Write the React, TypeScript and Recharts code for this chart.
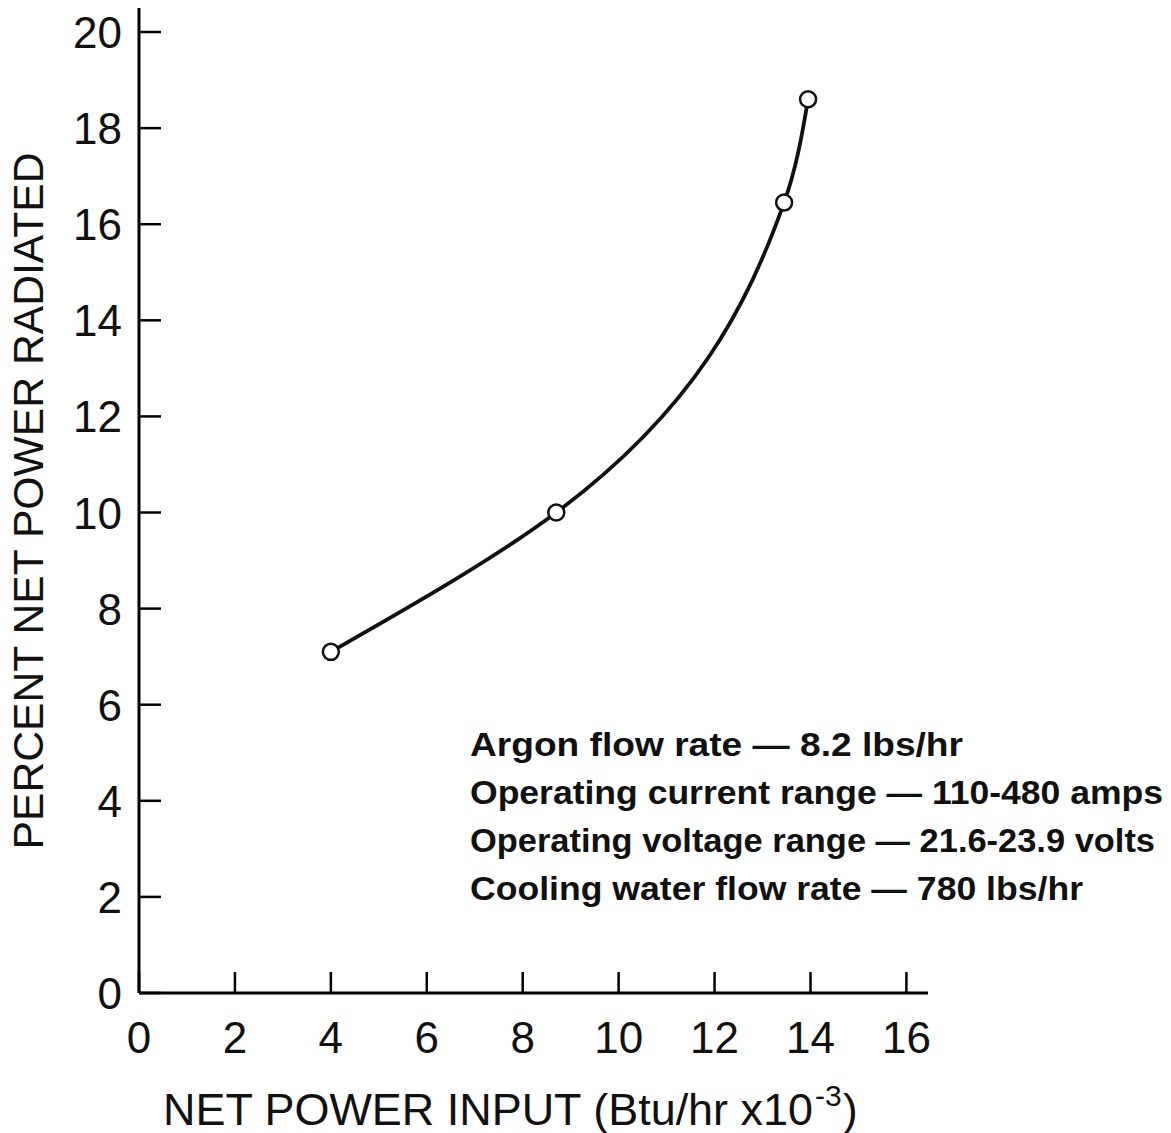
import React from 'react';
import { ComposedChart, Line, XAxis, YAxis, Customized } from 'recharts';

const netPowerInput = [4.0, 8.7, 13.45, 13.95];
const percentRadiated = [7.1, 10.0, 16.45, 18.6];
const xTicks = [0, 2, 4, 6, 8, 10, 12, 14, 16];
const yTicks = [0, 2, 4, 6, 8, 10, 12, 14, 16, 18, 20];
const notes = [
  'Argon  flow  rate  \u2014  8.2 lbs/hr',
  'Operating  current  range \u2014 110-480 amps',
  'Operating  voltage  range \u2014 21.6-23.9 volts',
  'Cooling  water  flow  rate \u2014 780 lbs/hr',
];
const noteWidths = [493, 693, 685, 613];

const data = netPowerInput.map((x, i) => ({ x, y: percentRadiated[i] }));
const FONT = '"Liberation Sans", Arial, sans-serif';

const YTick = (props: any) => {
  const { x, y, payload } = props;
  return (
    <g>
      <line x1={x} y1={y} x2={x + 22} y2={y} stroke="#000" strokeWidth={2.5} />
      <text x={x - 17} y={y + 16} textAnchor="end" fontSize={44} fontFamily={FONT} fill="#111">
        {payload.value}
      </text>
    </g>
  );
};

const XTick = (props: any) => {
  const { x, y, payload } = props;
  return (
    <g>
      <line x1={x} y1={y} x2={x} y2={y - 21} stroke="#000" strokeWidth={2.5} />
      <text x={x} y={y + 60} textAnchor="middle" fontSize={44} fontFamily={FONT} fill="#111">
        {payload.value}
      </text>
    </g>
  );
};

const Texts = () => (
  <g fontFamily={FONT} fill="#111">
    <text x={163} y={1125} fontSize={44} textLength={650} lengthAdjust="spacingAndGlyphs">
      NET POWER INPUT  (Btu/hr x10
    </text>
    <text x={815} y={1106} fontSize={30}>-3</text>
    <text x={843} y={1125} fontSize={44}>)</text>
    <text
      transform="translate(43,501) rotate(-90)"
      x={0}
      y={0}
      textAnchor="middle"
      fontSize={43}
      textLength={697}
      lengthAdjust="spacingAndGlyphs"
    >
      PERCENT NET POWER RADIATED
    </text>
    {notes.map((t, i) => (
      <text
        key={i}
        x={470}
        y={756 + i * 48}
        fontSize={34}
        fontWeight="bold"
        textLength={noteWidths[i]}
        lengthAdjust="spacingAndGlyphs"
      >
        {t}
      </text>
    ))}
  </g>
);

export default function App() {
  return (
    <div style={{ position: 'absolute', left: 0, top: 0, background: '#fff' }}>
      <ComposedChart
        width={1171}
        height={1133}
        data={data}
        margin={{ top: 8, right: 243, left: 0, bottom: 0 }}
      >
        <XAxis
          type="number"
          dataKey="x"
          domain={[0, 16.45]}
          ticks={xTicks}
          height={140}
          tickSize={0}
          tickMargin={0}
          tickLine={false}
          tick={<XTick />}
          axisLine={{ stroke: '#000', strokeWidth: 3 }}
          interval={0}
        />
        <YAxis
          type="number"
          dataKey="y"
          domain={[0, 20.5]}
          ticks={yTicks}
          width={139}
          tickSize={0}
          tickMargin={0}
          tickLine={false}
          tick={<YTick />}
          axisLine={{ stroke: '#000', strokeWidth: 3 }}
          interval={0}
        />
        <Line
          type="monotoneY"
          dataKey="y"
          stroke="#111"
          strokeWidth={3.8}
          dot={{ r: 8, fill: '#fff', stroke: '#111', strokeWidth: 2.5 }}
          isAnimationActive={false}
        />
        <Customized component={Texts} />
      </ComposedChart>
    </div>
  );
}
